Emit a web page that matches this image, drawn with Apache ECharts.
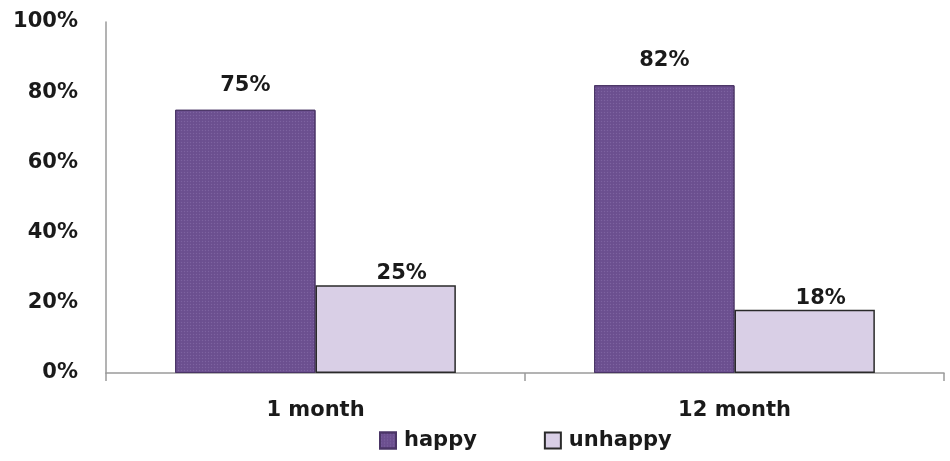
<!DOCTYPE html>
<html>
<head>
<meta charset="utf-8">
<script src="https://cdn.jsdelivr.net/npm/echarts@6/dist/echarts.min.js"></script>
<style>
  html, body { margin: 0; padding: 0; background: #fff; }
  #chart { width: 950px; height: 461px; }
</style>
</head>
<body>
<div id="chart"></div>
<script>
// categories and values (percent)
const categories = ['1 month', '12 month']
const happy = [75, 82]
const unhappy = [25, 18]
const yTicks = [0, 20, 40, 60, 80, 100]

const chart = echarts.init(document.getElementById('chart'))

const font = '"DejaVu Sans", sans-serif'

chart.setOption({
  animation: false,
  grid: { left: 106, right: 6, top: 22, bottom: 88 },
  legend: {
    bottom: 5,
    left: 374,
    itemWidth: 16,
    itemHeight: 16,
    itemGap: 67,
    icon: 'rect',
    textStyle: { fontFamily: font, fontWeight: 'bold', fontSize: 21, color: '#1a1a1a', padding: [0, 0, 0, 3] },
    data: ['happy', 'unhappy']
  },
  xAxis: {
    type: 'category',
    data: categories,
    axisLine: { lineStyle: { color: '#9a9a9a', width: 1.5 } },
    axisTick: { show: true, length: 8, lineStyle: { color: '#9a9a9a', width: 1.5 } },
    axisLabel: { fontFamily: font, fontWeight: 'bold', fontSize: 21, color: '#1a1a1a', margin: 27 }
  },
  yAxis: {
    type: 'value',
    min: yTicks[0],
    max: yTicks[yTicks.length - 1],
    interval: 20,
    splitLine: { show: false },
    axisLine: { show: true, lineStyle: { color: '#9a9a9a', width: 1.5 } },
    axisTick: { show: false },
    axisLabel: {
      fontFamily: font, fontWeight: 'bold', fontSize: 21, color: '#1a1a1a', margin: 28,
      formatter: v => v + '%'
    }
  },
  series: [
    {
      name: 'happy',
      type: 'bar',
      data: happy,
      barGap: '0%',
      barCategoryGap: '33%',
      itemStyle: {
        color: '#6b4f8f',
        borderColor: '#4a3566',
        borderWidth: 1,
        decal: {
          symbol: 'circle',
          symbolSize: 0.5,
          dashArrayX: [3, 0],
          dashArrayY: [3, 0],
          color: 'rgba(200,180,230,0.2)'
        }
      },
      label: {
        show: true,
        position: 'top',
        distance: 14,
        formatter: '{c}%',
        fontFamily: font, fontWeight: 'bold', fontSize: 21, color: '#1a1a1a'
      }
    },
    {
      name: 'unhappy',
      type: 'bar',
      data: unhappy,
      itemStyle: {
        color: '#d9cfe6',
        borderColor: '#2a2a2a',
        borderWidth: 1.5
      },
      label: {
        show: true,
        position: 'top',
        distance: 1,
        offset: [16, 0],
        formatter: '{c}%',
        fontFamily: font, fontWeight: 'bold', fontSize: 21, color: '#1a1a1a'
      }
    }
  ]
})
</script>
</body>
</html>
